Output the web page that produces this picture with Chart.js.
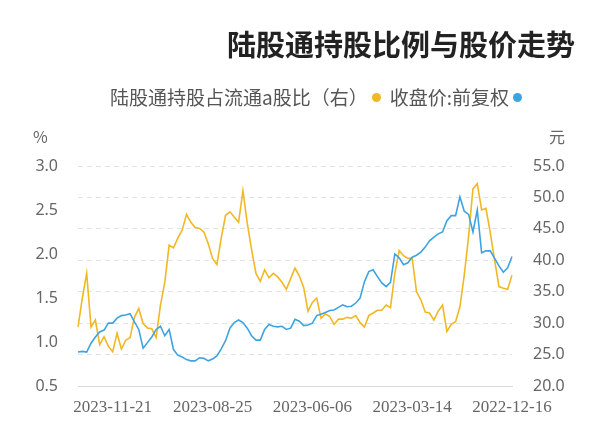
<!DOCTYPE html>
<html>
<head>
<meta charset="utf-8">
<script src="https://cdn.jsdelivr.net/npm/chart.js@4/dist/chart.umd.min.js"></script>
<style>
  body { margin: 0; background: #fff; }
  #wrap { position: relative; width: 600px; height: 446px; }
  #title { position: absolute; right: 25px; top: 27px; font: bold 29px "Noto Sans CJK SC", sans-serif; color: #222; line-height: 32px; }
  #legend { position: absolute; right: 78px; top: 86px; display: flex; flex-direction: row-reverse; gap: 9px; font: 19px "Noto Sans CJK SC", sans-serif; color: #555; line-height: 22px; }
  .item { display: flex; flex-direction: row-reverse; align-items: center; gap: 4px; }
  .dot { width: 9px; height: 9px; border-radius: 50%; }
  .unit { position: absolute; top: 124px; font: 16px "Noto Sans CJK SC", sans-serif; color: #666; }
</style>
</head>
<body>
<div id="wrap">
  <div id="title">陆股通持股比例与股价走势</div>
  <div id="legend"></div>
  <div class="unit" style="left:33px">%</div>
  <div class="unit" style="left:549px">元</div>
  <canvas id="myChart" width="600" height="446"></canvas>
</div>
<script>
// tick dates, one every 23 points, oldest first
var tickDates = ['2022-12-16', '2023-03-14', '2023-06-06', '2023-08-25', '2023-11-21'];
var tickStep = 23;

var seriesNames = ['收盘价:前复权', '陆股通持股占流通a股比（右）'];
var seriesColors = ['#3fa3e0', '#f2b824'];

// closing price (元), oldest first
var price = [
  40.6, 38.8, 38.1, 39.1, 40.3, 41.5, 41.5, 41.2, 48.0, 44.5,
  47.3, 47.8, 50.1, 47.1, 47.1, 46.3, 44.5, 44.2, 43.7, 43.1,
  42.1, 41.3, 40.8, 40.5, 39.6, 39.3, 40.4, 41.0, 36.5, 35.8,
  36.4, 37.4, 38.5, 38.2, 36.6, 34.0, 33.2, 32.7, 32.6, 32.9,
  32.5, 32.1, 32.0, 31.7, 31.4, 31.2, 30.0, 29.7, 29.6, 30.3,
  30.6, 29.2, 29.0, 29.5, 29.4, 29.5, 29.8, 29.0, 27.3, 27.3,
  28.0, 29.2, 30.1, 30.5, 30.1, 29.2, 27.2, 25.9, 24.8, 24.3,
  24.0, 24.4, 24.5, 24.0, 24.0, 24.2, 24.6, 24.9, 25.8, 29.0,
  28.0, 29.5, 29.0, 27.8, 26.9, 26.0, 29.0, 30.2, 31.5, 31.3,
  31.2, 30.8, 30.0, 30.0, 28.9, 28.6, 27.8, 26.8, 25.4, 25.5,
  25.4
];

// northbound holding as % of float a-shares, oldest first
var holding = [
  1.76, 1.60, 1.61, 1.63, 1.93, 2.24, 2.52, 2.50, 2.80, 2.74,
  2.20, 1.76, 1.40, 1.23, 1.20, 1.12, 1.42, 1.35, 1.25, 1.33,
  1.34, 1.48, 1.57, 1.95, 1.95, 1.98, 2.04, 1.78, 1.39, 1.42,
  1.36, 1.36, 1.33, 1.30, 1.17, 1.22, 1.30, 1.27, 1.28, 1.26,
  1.26, 1.20, 1.29, 1.32, 1.27, 1.50, 1.45, 1.35, 1.62, 1.75,
  1.84, 1.72, 1.60, 1.68, 1.74, 1.78, 1.73, 1.82, 1.69, 1.78,
  2.05, 2.35, 2.72, 2.36, 2.42, 2.48, 2.44, 2.18, 1.88, 1.95,
  2.12, 2.25, 2.29, 2.30, 2.36, 2.45, 2.27, 2.18, 2.07, 2.10,
  1.68, 1.42, 1.05, 1.15, 1.16, 1.21, 1.38, 1.28, 1.05, 1.02,
  0.92, 1.10, 0.89, 0.95, 1.06, 0.97, 1.25, 1.17, 1.78, 1.50,
  1.17
];

var xLabels = price.map(function (_, i) {
  return tickDates[i / tickStep] || '';
});

// legend
var legend = document.getElementById('legend');
seriesNames.forEach(function (name, i) {
  var item = document.createElement('div');
  item.className = 'item';
  item.innerHTML = '<span class="dot" style="background:' + seriesColors[i] + '"></span><span>' + name + '</span>';
  legend.appendChild(item);
});

var tickFont = { family: '"Noto Sans", sans-serif', size: 16 };

var ctx = document.getElementById('myChart').getContext('2d');
var myChart = new Chart(ctx, {
  type: 'line',
  data: {
    labels: xLabels,
    datasets: [{
      label: seriesNames[0],
      data: price,
      yAxisID: 'yPrice',
      borderColor: seriesColors[0],
      borderWidth: 1.6,
      pointRadius: 0,
      tension: 0
    }, {
      label: seriesNames[1],
      data: holding,
      yAxisID: 'yPct',
      borderColor: seriesColors[1],
      borderWidth: 1.6,
      pointRadius: 0,
      tension: 0
    }]
  },
  options: {
    responsive: false,
    animation: false,
    layout: { padding: { top: 166, left: 0, right: 0, bottom: 0 } },
    plugins: {
      legend: { display: false },
      tooltip: { enabled: false }
    },
    scales: {
      x: {
        type: 'category',
        reverse: true,
        offset: false,
        grid: { display: false, drawTicks: false },
        border: { display: true, color: '#d9d9d9', width: 1 },
        ticks: {
          autoSkip: false,
          maxRotation: 0,
          minRotation: 0,
          padding: 11,
          color: '#666',
          font: { family: '"Liberation Serif", serif', size: 17 }
        },
        afterFit: function (scale) { scale.height = 60; }
      },
      yPct: {
        position: 'left',
        min: 0.5,
        max: 3.0,
        grid: { display: false, drawTicks: false },
        border: { display: false },
        ticks: {
          stepSize: 0.5,
          padding: 20,
          color: '#666',
          font: tickFont,
          callback: function (v) { return v.toFixed(1); }
        },
        afterFit: function (scale) { scale.width = 78; }
      },
      yPrice: {
        position: 'right',
        min: 20,
        max: 55,
        grid: { color: '#e3e3e3', drawTicks: false },
        border: { display: false, dash: [5, 4] },
        ticks: {
          stepSize: 5,
          padding: 21,
          color: '#666',
          font: tickFont,
          callback: function (v) { return v.toFixed(1); }
        },
        afterFit: function (scale) { scale.width = 88; }
      }
    }
  }
});
</script>
</body>
</html>
